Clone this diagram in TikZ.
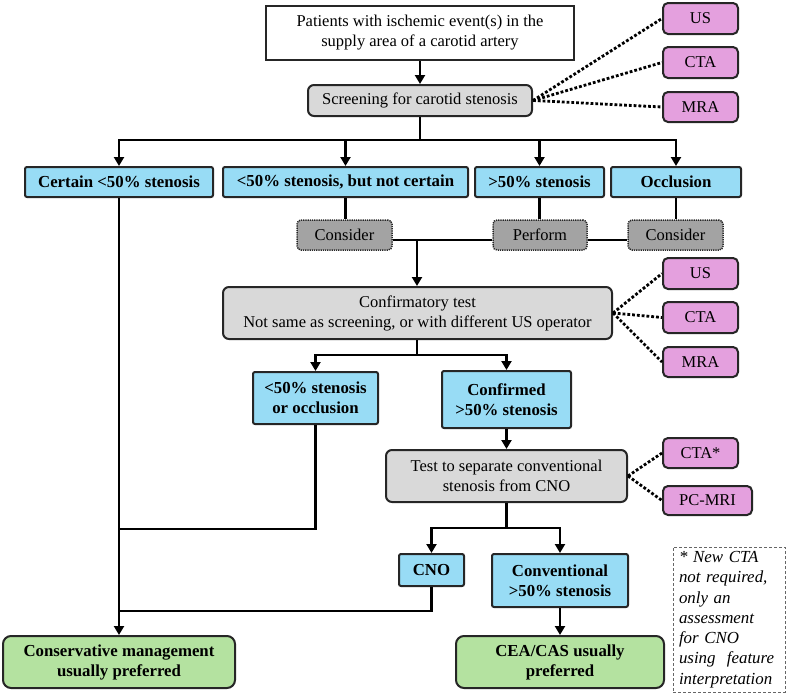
\documentclass[tikz,border=0pt]{standalone}
\usepackage{fontspec}
\setmainfont{Liberation Serif}
\usetikzlibrary{arrows.meta,calc}
\definecolor{cBlue}{RGB}{152,220,245}
\definecolor{cPink}{RGB}{228,160,222}
\definecolor{cGreen}{RGB}{180,226,160}
\definecolor{cLight}{RGB}{217,217,217}
\definecolor{cDark}{RGB}{163,163,163}
\tikzset{
  base/.style={draw=black!85, line width=2pt, inner sep=0pt, align=center, font=\fontsize{16.5}{20}\selectfont},
  plainbox/.style={base},
  graybox/.style={base, fill=cLight, rounded corners=6pt},
  catbox/.style={base, fill=cBlue, rounded corners=2pt, font=\bfseries\fontsize{16.8}{20}\selectfont},
  actbox/.style={base, fill=cDark, line width=1.5pt, dash pattern=on 1.2pt off 1pt, rounded corners=4pt},
  modbox/.style={base, fill=cPink, rounded corners=5pt},
  outbox/.style={base, fill=cGreen, rounded corners=8pt, font=\bfseries\fontsize{16.8}{20}\selectfont},
  notebox/.style={draw=black!60, line width=1pt, dash pattern=on 3pt off 2pt, inner sep=0pt, align=left, text width=100pt, font=\itshape\fontsize{16.9}{20.3}\selectfont},
  ln/.style={line width=2.8pt},
  arr/.style={line width=2.8pt, -{Triangle[length=9pt,width=10pt]}},
  dots/.style={line width=2.8pt, dash pattern=on 2.8pt off 2pt},
}
\newcommand\place[7]{\node[#2, minimum width={#5-#3}, minimum height={#6-#4}] (#1) at ({(#3+#5)/2},{(#4+#6)/2}) {#7};}
\begin{document}
\begin{tikzpicture}[x=1pt,y=-1pt]
\useasboundingbox (0,0) rectangle (788,699);
% main boxes
\place{top}{plainbox}{266}{6}{574}{60}{Patients with ischemic event(s) in the\\supply area of a carotid artery}
\place{screen}{graybox}{308}{85}{532}{116}{Screening for carotid stenosis}
\place{certain}{catbox}{25}{167}{213}{197}{Certain <50\% stenosis}
\place{notcert}{catbox}{223}{167}{468}{197}{<50\% stenosis, but not certain}
\place{gtfifty}{catbox}{475}{167}{604}{197}{>50\% stenosis}
\place{occl}{catbox}{611}{167}{741}{197}{Occlusion}
\place{consA}{actbox}{297}{220}{392}{250}{Consider}
\place{perf}{actbox}{493}{220}{587}{250}{Perform}
\place{consB}{actbox}{628}{220}{723}{250}{Consider}
\place{confirm}{graybox}{223}{287}{612}{339}{Confirmatory test\\Not same as screening, or with different US operator}
\place{ltocc}{catbox}{253}{372}{378}{424}{<50\% stenosis\\or occlusion}
\place{confd}{catbox}{442}{371}{571}{428}{Confirmed\\>50\% stenosis}
\place{test}{graybox}{386}{450}{627}{502}{Test to separate conventional\\stenosis from CNO}
\place{cno}{catbox}{399}{554}{464}{586}{CNO}
\place{conv}{catbox}{492}{554}{628}{607}{Conventional\\>50\% stenosis}
\place{cea}{outbox}{456}{636}{664}{688}{CEA/CAS usually\\preferred}
\place{conserv}{outbox}{3}{636}{235}{688}{Conservative management\\usually preferred}
\place{note}{notebox}{673}{547}{785}{692}{* New CTA\\not required,\\only an\\assessment\\for CNO\\using~ feature\\interpretation}
% modality boxes
\place{usA}{modbox}{663}{3}{738}{34}{US}
\place{ctaA}{modbox}{663}{47}{738}{78}{CTA}
\place{mraA}{modbox}{663}{92}{738}{122}{MRA}
\place{usB}{modbox}{663}{258}{738}{289}{US}
\place{ctaB}{modbox}{663}{302}{738}{333}{CTA}
\place{mraB}{modbox}{663}{347}{738}{377}{MRA}
\place{ctaC}{modbox}{663}{438}{738}{468}{CTA*}
\place{pcmri}{modbox}{663}{486}{752}{515}{PC-MRI}
% connectors
\draw[arr] (top.south) -- (top.south |- screen.north);
\coordinate (busA) at (420,140);
\draw[ln] (screen.south) -- (busA);
\draw[arr] (busA) -| (certain.north);
\draw[arr] (busA) -| (notcert.north);
\draw[arr] (busA) -| (gtfifty.north);
\draw[arr] (busA) -| (occl.north);
\draw[ln] (notcert.south) -- (notcert.south |- consA.north);
\draw[ln] (gtfifty.south) -- (gtfifty.south |- perf.north);
\draw[ln] (occl.south) -- (occl.south |- consB.north);
\coordinate (joinA) at (417,240);
\draw[ln] (consA.east |- joinA) -- (perf.west |- joinA);
\draw[ln] (perf.east |- joinA) -- (consB.west |- joinA);
\draw[arr] (joinA) -- (joinA |- confirm.north);
\coordinate (busB) at (417,355);
\draw[ln] (confirm.south -| busB) -- (busB);
\draw[arr] (busB) -| (ltocc.north);
\draw[arr] (busB) -| (confd.north);
\draw[arr] (confd.south) -- (test.north);
\coordinate (busC) at (506.5,528);
\draw[ln] (test.south) -- (busC);
\draw[arr] (busC) -| (cno.north);
\draw[arr] (busC) -| (conv.north);
\draw[arr] (conv.south) -- (cea.north);
\draw[arr] (certain.south) -- (certain.south |- conserv.north);
\coordinate (mergeA) at (119,529);
\coordinate (mergeB) at (119,611);
\draw[ln] (ltocc.south) |- (mergeA);
\draw[ln] (cno.south) |- (mergeB);
% dotted links
\foreach \m in {usA,ctaA,mraA} \draw[dots] (screen.east) -- (\m.west);
\foreach \m in {usB,ctaB,mraB} \draw[dots] (confirm.east) -- (\m.west);
\foreach \m in {ctaC,pcmri} \draw[dots] (test.east) -- (\m.west);
\end{tikzpicture}
\end{document}
